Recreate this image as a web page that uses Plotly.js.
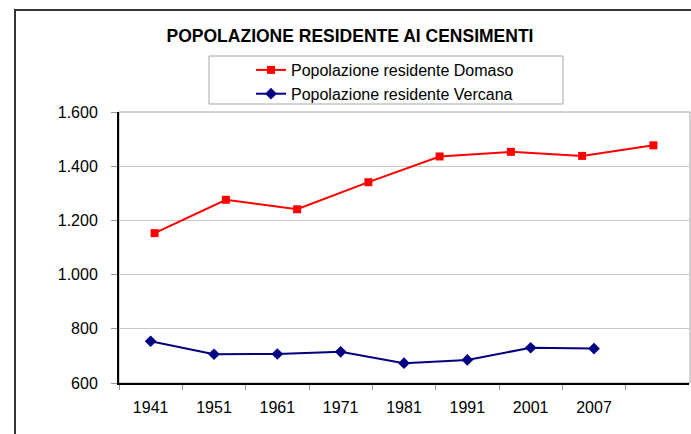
<!DOCTYPE html>
<html>
<head>
<meta charset="utf-8">
<script src="https://cdn.plot.ly/plotly-3.0.1.min.js"></script>
<style>html,body{margin:0;padding:0;background:#fff;}#chart{width:691px;height:434px;}</style>
</head>
<body>
<div id="chart"></div>
<script>
// ---- data ----
var years = ["1941", "1951", "1961", "1971", "1981", "1991", "2001", "2007"];
var domaso = [1153, 1276, 1241, 1341, 1436, 1453, 1438, 1477];
var vercana = [754, 706, 707, 715, 673, 685, 730, 727];
var seriesNames = ["Popolazione residente Domaso", "Popolazione residente Vercana"];
var chartTitle = "POPOLAZIONE RESIDENTE AI CENSIMENTI";
var yTicks = [600, 800, 1000, 1200, 1400, 1600];

// ---- layout geometry (pixels) ----
var W = 691, H = 434;
var L = 119, R = 2, T = 112, B = 51;
var pw = W - L - R, ph = H - T - B;
function px(x) { return (x - L) / pw; }
function py(y) { return (H - B - y) / ph; }

var font = "Liberation Sans, Arial, sans-serif";

var traces = [
  {
    x: years, y: domaso, name: seriesNames[0], type: "scatter", mode: "lines+markers",
    xaxis: "x2", yaxis: "y",
    line: {color: "#ff0000", width: 2},
    marker: {symbol: "square", size: 8, color: "#ff0000"}
  },
  {
    x: years, y: vercana, name: seriesNames[1], type: "scatter", mode: "lines+markers",
    xaxis: "x", yaxis: "y",
    line: {color: "#000080", width: 2},
    marker: {symbol: "diamond", size: 9, color: "#000080"}
  }
];

var layout = {
  width: W, height: H,
  margin: {l: L, r: R, t: T, b: B, pad: 0},
  paper_bgcolor: "#ffffff", plot_bgcolor: "#ffffff",
  separators: ",.",
  showlegend: true,
  font: {family: font, size: 16, color: "#000"},
  title: {
    text: "<b>" + chartTitle + "</b>",
    font: {family: font, size: 17.5, color: "#000"},
    x: 350 / W, xanchor: "center", y: 1 - 36 / H, yanchor: "middle"
  },
  xaxis: {
    type: "category", categoryarray: years, range: [-0.5, 8.5],
    showline: true, linecolor: "#000", linewidth: 2,
    ticks: "outside", tickson: "boundaries", ticklen: 5, tickcolor: "#999", tickwidth: 1,
    showgrid: false, zeroline: false, fixedrange: true,
    tickfont: {family: font, size: 16, color: "#000"},
    ticklabelstandoff: 9
  },
  xaxis2: {
    type: "category", categoryarray: years, range: [-0.5, 7.5],
    overlaying: "x", visible: false, fixedrange: true
  },
  yaxis: {
    range: [600, 1600], tickvals: yTicks, tickformat: ",d",
    showline: true, linecolor: "#000", linewidth: 2,
    ticks: "outside", ticklen: 6, tickcolor: "#999", tickwidth: 1,
    showgrid: true, gridcolor: "#c8c8c8", gridwidth: 1,
    zeroline: false, fixedrange: true,
    tickfont: {family: font, size: 16, color: "#000"},
    ticklabelstandoff: 10
  },
  legend: {
    x: px(251), y: py(53), xanchor: "left", yanchor: "top",
    bgcolor: "rgba(0,0,0,0)", borderwidth: 0,
    font: {family: font, size: 16, color: "#000"},
    tracegroupgap: 0
  },
  shapes: [
    // plot area border
    {type: "rect", xref: "paper", yref: "paper", x0: 0, x1: px(690), y0: 0, y1: 1,
     line: {color: "#a6a6a6", width: 1}, layer: "below"},
    // legend box
    {type: "rect", xref: "paper", yref: "paper", x0: px(209), x1: px(563), y0: py(104), y1: py(56),
     line: {color: "#a6a6a6", width: 1}, fillcolor: "rgba(0,0,0,0)", layer: "above"},
    // outer chart border
    {type: "rect", xref: "paper", yref: "paper", x0: px(15), x1: px(720), y0: py(460), y1: py(10),
     line: {color: "#333333", width: 2}, fillcolor: "rgba(0,0,0,0)", layer: "above"}
  ]
};

Plotly.newPlot("chart", traces, layout, {displayModeBar: false, staticPlot: true});
</script>
</body>
</html>
